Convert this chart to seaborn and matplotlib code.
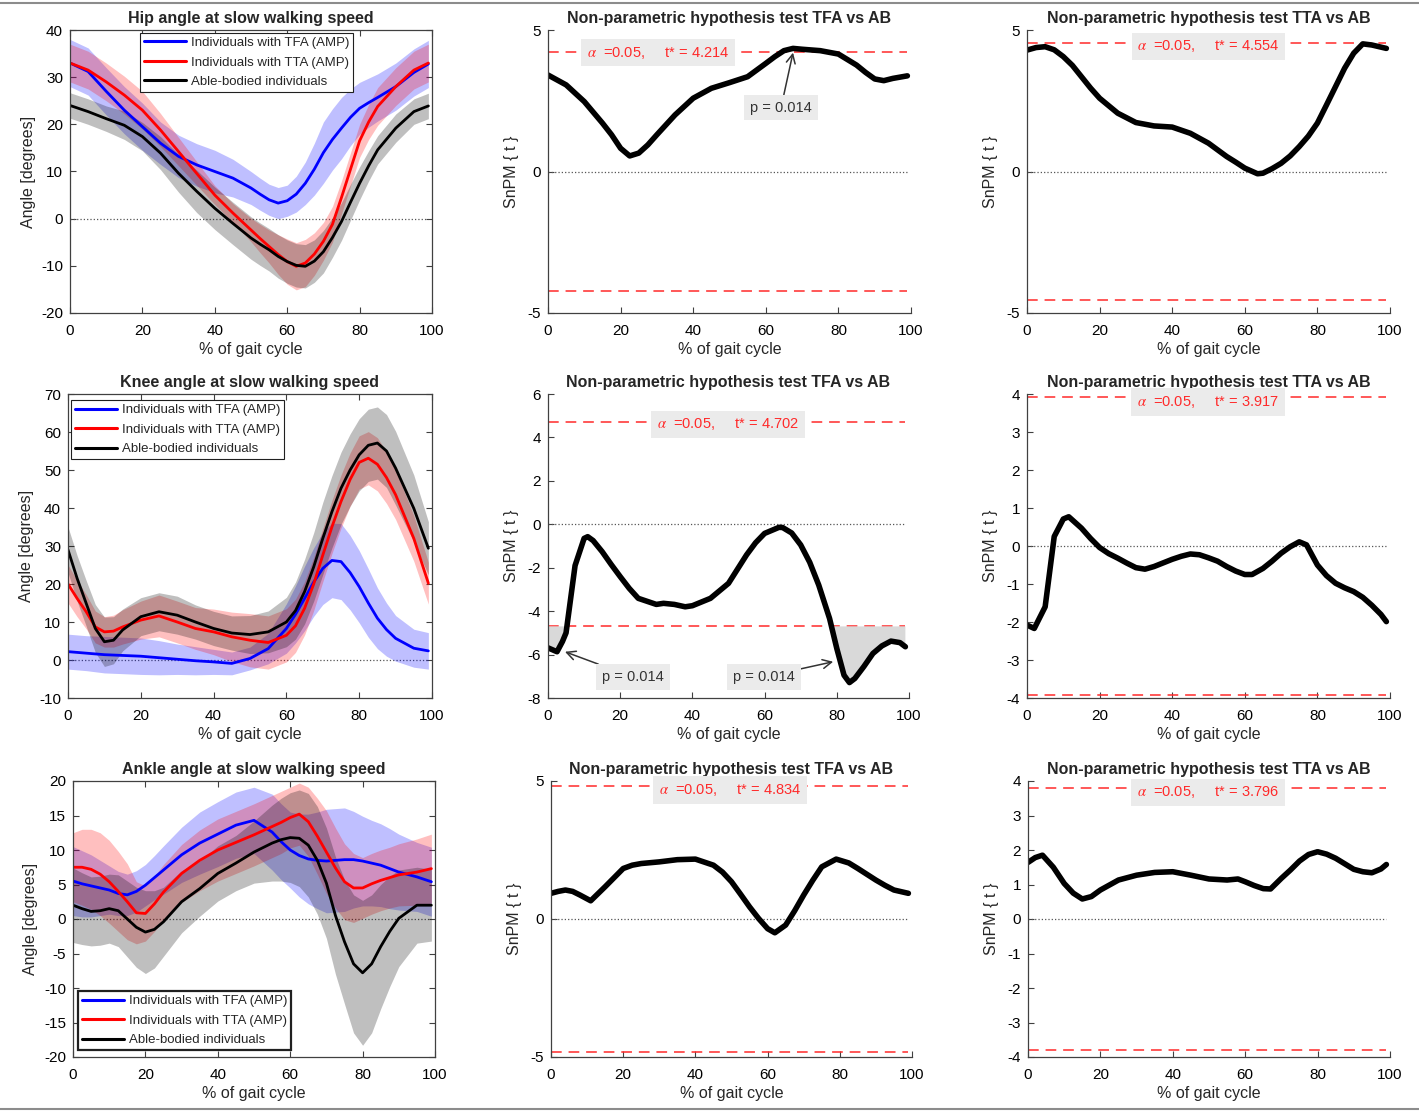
import numpy as np
import seaborn as sns
import matplotlib.pyplot as plt
from matplotlib.lines import Line2D

# Hip angle (% of gait cycle, mean and sd per group)
hip_pct = [0, 5, 10, 15, 20, 25, 30, 35, 40, 45, 50, 52.5, 55, 57.5, 60, 62.5, 65, 67.5, 70, 72.5, 75, 77.5, 80, 82.5, 85, 90, 95, 99]
hip_tfa_mean = [33, 31.2, 27, 23, 19.5, 16, 13.2, 11.4, 10, 8.6, 6.5, 5.2, 4.0, 3.3, 3.8, 5.2, 7.5, 10.5, 14, 16.8, 19.2, 21.5, 23.4, 24.6, 25.7, 28, 31, 32.8]
hip_tfa_sd = [5, 5, 5, 5, 5, 4.5, 4.5, 4.5, 4.5, 4, 3.5, 3.4, 3.3, 3.3, 3.3, 3.8, 4.5, 5.5, 6.5, 6.5, 6.5, 6, 5.5, 5.2, 5, 5, 5, 5]
hip_tta_mean = [33, 31.5, 29, 26.2, 23, 18.8, 14.2, 9.6, 5, 1.2, -2.4, -4.2, -5.9, -7.6, -9.1, -10.1, -9.4, -7.5, -4.8, -1.2, 4.5, 10.5, 16.5, 20.5, 23.8, 28, 31.5, 33]
hip_tta_sd = [4, 4, 4, 4, 4, 3.5, 3, 2.5, 2, 2, 2.5, 3, 3.5, 4.2, 4.8, 5, 5, 4.5, 4, 3.8, 3.5, 3.5, 3.5, 3.7, 4, 4, 4, 4]
hip_ab_mean = [24, 22.7, 21.2, 19.8, 17.4, 13.9, 9.6, 5.8, 2.2, -1, -4.1, -5.4, -6.6, -8, -9.1, -9.9, -10.1, -9, -7, -4, -0.6, 3.5, 7.5, 11.2, 14.6, 19.2, 22.7, 23.9]
hip_ab_sd = [2.7, 2.7, 2.7, 3, 3, 3.5, 4, 4.5, 4.5, 4.5, 4.5, 4.5, 4.5, 4.6, 4.6, 4.6, 4.6, 4.5, 4.5, 4.2, 4, 3.8, 3.5, 3.2, 3, 3, 2.7, 2.7]

# Knee angle
knee_pct = [0, 2.5, 5, 7.5, 10, 12.5, 15, 20, 25, 30, 35, 40, 45, 50, 55, 60, 62.5, 65, 67.5, 70, 72.5, 75, 77.5, 80, 82.5, 85, 87.5, 90, 95, 99]
knee_tfa_mean = [2.2, 2.0, 1.8, 1.6, 1.4, 1.3, 1.2, 1.0, 0.6, 0.2, -0.2, -0.5, -0.9, 0.4, 3, 8.3, 12, 16.2, 20.5, 24.1, 26.2, 25.9, 23, 19.3, 15, 11, 8, 5.7, 3.1, 2.4]
knee_tfa_sd = [4.6, 4.6, 4.6, 4.7, 4.8, 4.8, 4.8, 4.8, 4.5, 4, 3.7, 3.3, 3, 3, 4, 6.5, 7.5, 8.5, 9, 9.5, 9.8, 10, 9.8, 9.5, 9, 8, 7, 6, 5, 4.8]
knee_tta_mean = [20, 16.2, 12.7, 8.7, 7.4, 7.6, 8.7, 10.5, 11.6, 10, 8.3, 7.4, 6.1, 5.2, 4.6, 6.5, 9, 13.6, 20, 27.6, 35, 41.7, 47.5, 52, 53.1, 51.5, 48, 43.5, 32, 20.2]
knee_tta_sd = [5, 4.8, 4.5, 4.2, 4, 4.2, 4.5, 5, 5.5, 5.5, 5.5, 6, 6.5, 7, 7, 7, 7, 7, 7, 7, 7, 7, 7, 7, 7, 7, 6.8, 6.5, 6, 5.5]
knee_ab_mean = [29, 21.5, 14.9, 8.3, 4.8, 5.2, 7.9, 11.4, 12.7, 11.8, 10, 8.3, 7.1, 6.7, 7.4, 10, 13, 18, 24.5, 32, 39, 45.2, 50, 54, 56.5, 57.1, 55, 50.5, 39.9, 29.4]
knee_ab_sd = [6, 6, 6, 6.3, 6.5, 6.2, 5.5, 5, 5, 5, 4.5, 4.5, 4.5, 5, 5.5, 6.5, 7.5, 8.5, 9, 9.5, 9.5, 9.5, 9.5, 9.5, 9.5, 9.5, 9.6, 9.7, 8.8, 7]

# Ankle angle
ankle_pct = [0, 2.5, 5, 7.5, 10, 12.5, 15, 17.5, 20, 22.5, 25, 30, 35, 40, 45, 50, 55, 57.5, 60, 62.5, 65, 67.5, 70, 72.5, 75, 77.5, 80, 82.5, 85, 87.5, 90, 95, 99]
ankle_tfa_mean = [5.5, 5.1, 4.8, 4.5, 4.2, 3.7, 3.5, 4.0, 4.9, 6.0, 7.1, 9.3, 11, 12.3, 13.6, 14.3, 12.6, 11.2, 10, 9.2, 8.7, 8.5, 8.4, 8.5, 8.6, 8.6, 8.4, 8.1, 7.8, 7.3, 6.8, 6.1, 5.4]
ankle_tfa_sd = [5, 4.8, 4.5, 4, 3.5, 3.2, 3, 3, 3, 3.2, 3.5, 4, 4.5, 4.7, 4.8, 4.8, 5.5, 5.5, 5.5, 6, 6.5, 7, 7.5, 7.5, 7.5, 7, 6.5, 6.2, 6, 5.8, 5.5, 5, 5]
ankle_tta_mean = [7.5, 7.5, 7.2, 6.5, 5.4, 4.0, 2.5, 0.9, 0.8, 2.2, 3.9, 6.6, 8.5, 10, 11.1, 12.2, 13.4, 14, 14.7, 15.2, 14.1, 12, 9.7, 7.4, 5.4, 4.5, 4.5, 5.1, 5.6, 6.0, 6.4, 6.8, 7.3]
ankle_tta_sd = [5, 5.5, 5.8, 6, 6, 5.8, 5.5, 4.5, 4, 4, 4, 4.2, 4.4, 4.5, 4.5, 4.5, 4.5, 4.5, 4.4, 4.5, 5, 5.5, 6, 5.8, 5.5, 5, 4.4, 4.4, 4.4, 4.4, 4.5, 4.8, 5]
ankle_ab_mean = [2, 1.5, 1.1, 1.2, 1.5, 1.2, 0, -1.2, -1.9, -1.5, -0.4, 2.5, 4.4, 6.6, 8.1, 9.7, 11, 11.5, 11.8, 11.7, 10.7, 8.5, 5.2, 0.5, -3.3, -6.5, -7.8, -6.5, -4, -1.8, 0.1, 2, 2]
ankle_ab_sd = [5.4, 5.2, 5, 5, 5, 5.2, 5.5, 5.8, 6, 5.6, 5, 4.5, 4, 4, 4, 4.5, 5.5, 6, 6.5, 7, 7.5, 7.8, 8, 8.5, 9, 10, 10.5, 10, 9, 8, 7, 5.5, 5.2]

# SnPM{t} curves
hip_tfa_x = [0, 5, 10, 15, 17.5, 20, 22.5, 25, 27.5, 30, 35, 40, 45, 50, 55, 60, 62.5, 65, 67.5, 70, 75, 80, 85, 87.5, 90, 92.5, 95, 99]
hip_tfa_t = [3.41, 3.06, 2.47, 1.71, 1.3, 0.82, 0.55, 0.65, 0.94, 1.3, 2.0, 2.59, 2.94, 3.14, 3.35, 3.82, 4.06, 4.27, 4.35, 4.32, 4.27, 4.15, 3.76, 3.5, 3.27, 3.21, 3.29, 3.38]
hip_tta_x = [0, 2.5, 5, 7.5, 10, 12.5, 15, 17.5, 20, 25, 30, 35, 40, 45, 50, 55, 57.5, 60, 63.5, 65, 67.5, 70, 72.5, 75, 77.5, 80, 82.5, 85, 87.5, 90, 92.5, 95, 99]
hip_tta_t = [4.29, 4.38, 4.41, 4.3, 4.06, 3.75, 3.35, 2.95, 2.59, 2.06, 1.73, 1.61, 1.57, 1.35, 1.0, 0.53, 0.33, 0.12, -0.08, -0.06, 0.1, 0.29, 0.55, 0.88, 1.25, 1.71, 2.35, 3.0, 3.65, 4.18, 4.51, 4.47, 4.35]
knee_tfa_x = [0, 2.5, 4, 5, 7.5, 10, 11, 12.5, 15, 17.5, 20, 22.5, 25, 30, 32, 35, 38, 40, 45, 50, 55, 57.5, 60, 64, 65, 67.5, 70, 72.5, 75, 78, 80, 82, 83.5, 85, 87.5, 90, 92.5, 95, 97.5, 99]
knee_tfa_t = [-5.69, -5.87, -5.4, -5.0, -1.9, -0.65, -0.57, -0.75, -1.26, -1.85, -2.41, -2.95, -3.41, -3.69, -3.64, -3.69, -3.8, -3.75, -3.41, -2.72, -1.41, -0.85, -0.42, -0.14, -0.15, -0.4, -0.95, -1.75, -2.8, -4.34, -5.72, -6.95, -7.29, -7.1, -6.55, -5.95, -5.6, -5.38, -5.45, -5.64]
knee_tta_x = [0, 2, 5, 7.5, 10, 11.5, 15, 17.5, 20, 22.5, 25, 27.5, 30, 32.5, 35, 40, 42.5, 45, 47.5, 50, 52.5, 55, 57.5, 60, 62, 65, 67.5, 70, 72.5, 75, 77, 80, 82.5, 85, 87.5, 90, 92.5, 95, 97.5, 99]
knee_tta_t = [-2.08, -2.17, -1.6, 0.25, 0.71, 0.77, 0.47, 0.2, -0.04, -0.2, -0.32, -0.45, -0.57, -0.61, -0.54, -0.35, -0.27, -0.21, -0.23, -0.31, -0.4, -0.54, -0.66, -0.75, -0.75, -0.59, -0.4, -0.19, -0.02, 0.11, 0.03, -0.5, -0.78, -0.98, -1.1, -1.2, -1.35, -1.56, -1.8, -1.99]
ankle_tfa_x = [0, 2, 4, 6, 8, 11, 15, 17.5, 20, 22.5, 25, 30, 35, 40, 45, 47.5, 50, 52.5, 55, 57.5, 60, 62, 65, 67.5, 70, 72.5, 75, 79, 82.5, 85, 87.5, 90, 92.5, 95, 99]
ankle_tfa_t = [0.93, 1.0, 1.05, 1.0, 0.87, 0.66, 1.17, 1.5, 1.83, 1.95, 2.01, 2.07, 2.15, 2.17, 1.95, 1.7, 1.35, 0.9, 0.44, 0.02, -0.35, -0.5, -0.22, 0.3, 0.87, 1.4, 1.89, 2.17, 2.03, 1.83, 1.62, 1.41, 1.22, 1.05, 0.93]
ankle_tta_x = [0, 2, 4, 7, 10, 12.5, 15, 17.5, 20, 25, 30, 35, 40, 45, 50, 55, 58, 60, 62.5, 65, 67, 70, 72.5, 75, 77.5, 80, 82.5, 85, 87.5, 90, 92.5, 95, 97.5, 99]
ankle_tta_t = [1.64, 1.78, 1.85, 1.5, 1.03, 0.75, 0.58, 0.65, 0.84, 1.13, 1.27, 1.35, 1.37, 1.27, 1.16, 1.13, 1.16, 1.08, 0.97, 0.88, 0.87, 1.18, 1.42, 1.68, 1.87, 1.95, 1.88, 1.76, 1.6, 1.44, 1.37, 1.34, 1.45, 1.58]

# critical thresholds
t_star = {'hip_tfa': 4.214, 'hip_tta': 4.554, 'knee_tfa': 4.702,
          'knee_tta': 3.917, 'ankle_tfa': 4.834, 'ankle_tta': 3.796}

group_labels = ['Individuals with TFA (AMP)', 'Individuals with TTA (AMP)', 'Able-bodied individuals']
group_colors = ['#0000ff', '#ff0000', '#000000']

W, H = 1419, 1112
TEXT_GRAY = '#333333'
BOX_GRAY = '#ebebeb'
RED = '#ff2a2a'


def px_axes(fig, left, top, right, bottom):
    return fig.add_axes([left / W, 1 - bottom / H, (right - left) / W, (bottom - top) / H])


def style_axes(ax, boxed):
    for side in ['top', 'right']:
        ax.spines[side].set_visible(boxed)
    for sp in ax.spines.values():
        sp.set_color('#404040')
        sp.set_linewidth(0.9)
    ax.tick_params(direction='in', length=4, width=0.8, labelsize=11, pad=5,
                   top=boxed, right=boxed, colors='#404040', labelcolor='black')
    ax.tick_params(axis='x', pad=8)
    ax.set_xlim(0, 100)
    ax.set_xticks([0, 20, 40, 60, 80, 100])
    ax.set_xlabel('% of gait cycle', fontsize=11.5, labelpad=3)


def plot_kinematics(ax, title, pct, means, sds, ylim, ystep, legend_kw, legend_lw):
    ax.axhline(0, color='#555555', ls=':', lw=0.9, xmax=0.99, zorder=1)
    for mean, sd, color, label in zip(means, sds, group_colors, group_labels):
        mean = np.array(mean)
        sd = np.array(sd)
        ax.fill_between(pct, mean - sd, mean + sd, color=color, alpha=0.25, lw=0)
        sns.lineplot(x=pct, y=mean, ax=ax, color=color, lw=2, label=label,
                     estimator=None, sort=False, solid_joinstyle='round')
    style_axes(ax, True)
    ax.set_ylim(*ylim)
    ax.set_yticks(np.arange(ylim[0], ylim[1] + 1, ystep))
    ax.set_ylabel('Angle [degrees]', fontsize=11.5, labelpad=4)
    ax.set_title(title, fontsize=11.5, fontweight='bold', pad=5)
    leg = ax.legend(fontsize=9.5, fancybox=False, framealpha=1, handlelength=3.2,
                    handletextpad=0.35, labelspacing=0.55, borderpad=0.3,
                    borderaxespad=0, **legend_kw)
    leg.get_frame().set_edgecolor('#202020')
    leg.get_frame().set_linewidth(legend_lw)
    for line in leg.get_lines():
        line.set_linewidth(2.2)


def plot_spm(ax, title, x, t, tcrit, ylim, yticks, alpha_xy, shade=False):
    ax.axhline(0, color='#555555', ls=':', lw=0.9, xmax=0.99, zorder=1)
    for level in [tcrit, -tcrit]:
        ax.axhline(level, color=RED, lw=1.1, ls=(0, (7, 4.5)), xmax=0.99, zorder=1)
    if shade:
        t_arr = np.array(t)
        ax.fill_between(x, t_arr, -tcrit, where=t_arr < -tcrit, interpolate=True,
                        color='#d9d9d9', lw=0, zorder=1.5)
    sns.lineplot(x=x, y=t, ax=ax, color='black', lw=4, estimator=None, sort=False,
                 solid_joinstyle='round', solid_capstyle='round')
    style_axes(ax, False)
    ax.set_ylim(*ylim)
    ax.set_yticks(yticks)
    ax.set_ylabel('SnPM { t }', fontsize=11.5, labelpad=6)
    ax.set_title(title, fontsize=11.5, fontweight='bold', pad=5)
    ax.text(alpha_xy[0], alpha_xy[1], '$\\alpha$  =0.05,     t* = %.3f' % tcrit,
            color=RED, fontsize=10.5, ha='center', va='center', zorder=5,
            bbox=dict(boxstyle='square,pad=0.4', fc=BOX_GRAY, ec='none'))


def p_note(ax, tip, text_xy):
    ax.annotate('p = 0.014', xy=tip, xytext=text_xy, ha='center', va='center',
                fontsize=10.5, color=TEXT_GRAY, zorder=6,
                bbox=dict(boxstyle='square,pad=0.4', fc=BOX_GRAY, ec='none'),
                arrowprops=dict(arrowstyle='->', color=TEXT_GRAY, lw=1.1,
                                mutation_scale=16, shrinkA=0, shrinkB=0))


def main():
    sns.set_style('ticks')
    plt.rcParams['font.family'] = ['Liberation Sans', 'DejaVu Sans']
    plt.rcParams['mathtext.fontset'] = 'stix'
    plt.rcParams['axes.unicode_minus'] = False

    fig = plt.figure(figsize=(W / 100, H / 100), dpi=100)

    tfa_title = 'Non-parametric hypothesis test TFA vs AB'
    tta_title = 'Non-parametric hypothesis test TTA vs AB'

    # row 1: hip
    ax = px_axes(fig, 70, 30, 432, 313)
    plot_kinematics(ax, 'Hip angle at slow walking speed', hip_pct,
                    [hip_tfa_mean, hip_tta_mean, hip_ab_mean],
                    [hip_tfa_sd, hip_tta_sd, hip_ab_sd], (-20, 40), 10,
                    dict(loc='upper center', bbox_to_anchor=(0.487, 0.99)), 0.8)
    ax = px_axes(fig, 548, 30, 911, 313)
    plot_spm(ax, tfa_title, hip_tfa_x, hip_tfa_t, t_star['hip_tfa'], (-5, 5), [-5, 0, 5], (30.2, 4.2))
    p_note(ax, (67.5, 4.2), (64.2, 2.26))
    ax = px_axes(fig, 1027, 30, 1390, 313)
    plot_spm(ax, tta_title, hip_tta_x, hip_tta_t, t_star['hip_tta'], (-5, 5), [-5, 0, 5], (50, 4.42))

    # row 2: knee
    ax = px_axes(fig, 68, 394, 432, 698)
    plot_kinematics(ax, 'Knee angle at slow walking speed', knee_pct,
                    [knee_tfa_mean, knee_tta_mean, knee_ab_mean],
                    [knee_tfa_sd, knee_tta_sd, knee_ab_sd], (-10, 70), 10,
                    dict(loc='upper left', bbox_to_anchor=(0.008, 0.98)), 0.8)
    ax = px_axes(fig, 548, 394, 909, 698)
    plot_spm(ax, tfa_title, knee_tfa_x, knee_tfa_t, t_star['knee_tfa'], (-8, 6),
             list(range(-8, 7, 2)), (49.9, 4.6), shade=True)
    p_note(ax, (4.7, -5.87), (23.5, -7.03))
    p_note(ax, (79.0, -6.33), (59.8, -7.03))
    ax = px_axes(fig, 1027, 394, 1390, 698)
    plot_spm(ax, tta_title, knee_tta_x, knee_tta_t, t_star['knee_tta'], (-4, 4),
             list(range(-4, 5)), (49.9, 3.79))

    # row 3: ankle
    ax = px_axes(fig, 73, 781, 435, 1057)
    plot_kinematics(ax, 'Ankle angle at slow walking speed', ankle_pct,
                    [ankle_tfa_mean, ankle_tta_mean, ankle_ab_mean],
                    [ankle_tfa_sd, ankle_tta_sd, ankle_ab_sd], (-20, 20), 5,
                    dict(loc='lower left', bbox_to_anchor=(0.014, 0.025)), 1.6)
    ax = px_axes(fig, 551, 781, 912, 1057)
    plot_spm(ax, tfa_title, ankle_tfa_x, ankle_tfa_t, t_star['ankle_tfa'], (-5, 5), [-5, 0, 5], (49.7, 4.67))
    ax = px_axes(fig, 1028, 781, 1390, 1057)
    plot_spm(ax, tta_title, ankle_tta_x, ankle_tta_t, t_star['ankle_tta'], (-4, 4),
             list(range(-4, 5)), (49.8, 3.67))

    # thin frame lines at the top and bottom of the figure
    for y in [1 - 3 / H, 3 / H]:
        fig.add_artist(Line2D([0, 1], [y, y], color='#8c8c8c', lw=1.5))

    fig.savefig('out.png', dpi=100)
    plt.close(fig)


if __name__ == '__main__':
    main()
